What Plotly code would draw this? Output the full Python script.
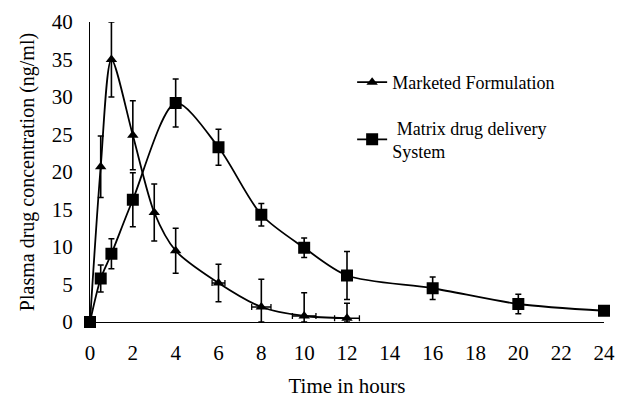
import plotly.graph_objects as go

time_mf = [0, 0.5, 1, 2, 3, 4, 6, 8, 10, 12]
conc_mf = [0, 20.7, 35.0, 24.9, 14.6, 9.5, 5.2, 2.0, 0.8, 0.5]
err_mf_plus = [None, 4.1, 5.0, 4.6, 3.8, 3.0, 2.5, 3.7, 3.1, 2.0]
err_mf_minus = [None, 4.1, 5.0, 4.6, 3.8, 3.0, 2.5, 2.0, 0.8, 0.5]
xerr_mf = [None, None, None, None, None, None, 0.3, 0.45, 0.55, 0.58]

time_mds = [0, 0.5, 1, 2, 4, 6, 8, 10, 12, 16, 20, 24]
conc_mds = [0, 5.8, 9.1, 16.3, 29.2, 23.3, 14.3, 9.9, 6.2, 4.5, 2.4, 1.5]
err_mds = [None, 1.8, 2.0, 3.6, 3.2, 2.4, 1.5, 1.3, 3.2, 1.5, 1.3, 0.5]

x_ticks = list(range(0, 25, 2))
y_ticks = list(range(0, 41, 5))

font = "Liberation Serif, Times New Roman, serif"

fig = go.Figure()
fig.add_trace(go.Scatter(
    x=time_mf, y=conc_mf, name="Marketed Formulation",
    mode="lines+markers", line=dict(color="black", width=1.8, shape="spline", smoothing=0.8),
    marker=dict(symbol="triangle-up", size=10, color="black"),
    error_y=dict(type="data", array=err_mf_plus, arrayminus=err_mf_minus, symmetric=False,
                 color="black", thickness=1.6, width=3),
    error_x=dict(type="data", array=xerr_mf, color="black", thickness=1.3, width=3),
    cliponaxis=False, legendgroup="a",
))
fig.add_trace(go.Scatter(
    x=time_mds, y=conc_mds, name=" Matrix drug delivery<br>System",
    mode="lines+markers", line=dict(color="black", width=1.8, shape="spline", smoothing=0.8),
    marker=dict(symbol="square", size=12, color="black"),
    error_y=dict(type="data", array=err_mds, color="black", thickness=1.6, width=3),
    cliponaxis=False, legendgroup="b",
))

fig.update_layout(
    width=620, height=390,
    margin=dict(l=82, r=24, t=14, b=76, autoexpand=False),
    paper_bgcolor="white", plot_bgcolor="white",
    font=dict(family=font, size=21, color="black"),
    showlegend=True,
    legend=dict(x=0.51, y=0.86, xanchor="left", yanchor="top",
                font=dict(family=font, size=18, color="black"),
                tracegroupgap=19, bgcolor="rgba(0,0,0,0)", itemwidth=30),
    xaxis=dict(range=[0, 24], tickvals=x_ticks, ticktext=[str(v) for v in x_ticks],
               showgrid=False, zeroline=False, showline=True, linecolor="black", linewidth=1,
               ticks="", ticklabelstandoff=12, automargin=False,
               title=dict(text="Time in hours", font=dict(size=21), standoff=14)),
    yaxis=dict(range=[0, 40], tickvals=y_ticks, ticktext=[str(v) for v in y_ticks],
               showgrid=False, zeroline=False, showline=True, linecolor="black", linewidth=1,
               ticks="", ticklabelstandoff=12, automargin=False,
               title=dict(text="Plasma drug concentration (ng/ml)", font=dict(size=20), standoff=11)),
)

fig.write_html("out.html")
